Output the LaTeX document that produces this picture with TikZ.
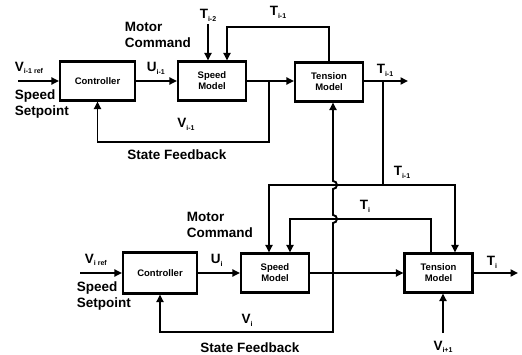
\documentclass[tikz,border=0pt]{standalone}
\usepackage{fontspec}
\setmainfont{Liberation Sans}
\usetikzlibrary{arrows.meta}
\newcommand\lsub[1]{\raisebox{-0.3ex}{\fontsize{7}{7}\selectfont #1}}
\begin{document}
\begin{tikzpicture}[x=1pt,y=-1pt, line width=1.9pt,
  >={Triangle[length=7.5pt,width=7pt]},
  blk/.style={draw, line width=2.1pt, minimum width=68pt, minimum height=39pt,
     font=\bfseries\fontsize{9.5}{11}\selectfont, align=center, inner sep=0pt},
  lbl/.style={font=\bfseries\fontsize{13.5}{16}\selectfont, align=left, inner sep=0pt},
  sig/.style={font=\bfseries\fontsize{13.5}{15}\selectfont, inner sep=0pt}]
\useasboundingbox (0,0) rectangle (522,355);
% top row
\node[blk, minimum width=75pt] (c1) at (97.5,81) {Controller};
\node[blk] (s1) at (212,81) {Speed\\Model};
\node[blk] (t1) at (329,82) {Tension\\Model};
% bottom row
\node[blk, minimum width=74pt, minimum height=41pt] (c2) at (160,273) {Controller};
\node[blk] (s2) at (275,273) {Speed\\Model};
\node[blk] (t2) at (438.5,273) {Tension\\Model};

% coordinates
\coordinate (in1) at (18,81);
\coordinate (out1) at (408,81);
\coordinate (b1) at (269,81);
\coordinate (fb1) at (97.5,142);
\coordinate (tm2) at (208,24);
\coordinate (tl) at (227,27);
\coordinate (b3) at (383,81);
\coordinate (in2) at (80,273);
\coordinate (out2) at (518,273);
\coordinate (j2) at (333,273);
\coordinate (fb2) at (333,332);
\coordinate (h1l) at (269,185);
\coordinate (h1r) at (455,185);
\coordinate (ti1) at (431,219);
\coordinate (ti2) at (290,219);
\coordinate (vp) at (443,333);

% top connectors
\draw[->] (in1) -- (in1 -| c1.west);
\draw[->] (c1) -- (s1);
\draw[->] (s1.east |- b1) -- (t1.west |- b1);
\draw[->] (t1.east |- out1) -- (out1);
\draw[->] (b1) |- (fb1) -- (c1.south);
\draw[->] (tm2) -- (tm2 |- s1.north);
\draw[->] (t1.north) |- (tl) -- (tl |- s1.north);
\draw (b3) -- (b3 |- h1l);

% bottom connectors
\draw[->] (in2) -- (c2);
\draw[->] (c2) -- (s2);
\draw[->] (s2) -- (t2);
\draw[->] (t2) -- (out2);
\draw[->] (j2) -- (fb2) -| (c2.south);
\draw[<->] (h1l |- s2.north) -- (h1l) -- (h1r) -- (h1r |- t2.north);
\draw[->] (ti1 |- t2.north) -- (ti1) -- (ti2) -- (ti2 |- s2.north);
\draw[->] (vp) -- (vp |- t2.south);
\draw[->] (j2) -- (333,223) arc[start angle=-90, end angle=90, radius=4pt]
   -- (333,189) arc[start angle=-90, end angle=90, radius=4pt]
   -- (j2 |- t1.south);

% labels top
\node[sig, anchor=south west] (l1) at (14,75) {V\lsub{i-1 ref}};
\node[lbl, anchor=north west] (l2) at (14,89) {Speed\\Setpoint};
\node[lbl, anchor=north west] (l3) at (124,21) {Motor\\Command};
\node[sig, anchor=south west] (l4) at (146,75) {U\lsub{i-1}};
\node[sig, anchor=south] (l5) at (208,22) {T\lsub{i-2}};
\node[sig, anchor=south] (l6) at (278,19) {T\lsub{i-1}};
\node[sig, anchor=south] (l7) at (385,77) {T\lsub{i-1}};
\node[sig, anchor=south] (l8) at (186,131) {V\lsub{i-1}};
\node[lbl, anchor=center] (l9) at (177,155) {State Feedback};
% labels bottom
\node[sig, anchor=south west] (m1) at (84,267) {V\lsub{i ref}};
\node[lbl, anchor=north west] (m2) at (76,281) {Speed\\Setpoint};
\node[lbl, anchor=north west] (m3) at (186,211) {Motor\\Command};
\node[sig, anchor=south west] (m4) at (210,267) {U\lsub{i}};
\node[sig, anchor=south] (m5) at (402,179) {T\lsub{i-1}};
\node[sig, anchor=south] (m6) at (365,213) {T\lsub{i}};
\node[sig, anchor=south] (m7) at (492,269) {T\lsub{i}};
\node[sig, anchor=south] (m8) at (247,327) {V\lsub{i}};
\node[lbl, anchor=center] (m9) at (250,348) {State Feedback};
\node[sig, anchor=center] (m10) at (443,347) {V\lsub{i+1}};
\end{tikzpicture}
\end{document}
